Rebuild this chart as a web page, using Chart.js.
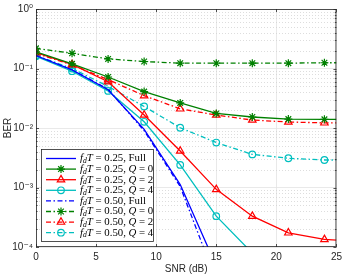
<!DOCTYPE html>
<html>
<head>
  <meta charset="UTF-8">
  <title>BER vs SNR</title>
  <script src="https://cdn.jsdelivr.net/npm/chart.js"></script>
  <style>
    body { margin: 0; background: #fff; }
    #wrap { width: 346px; height: 275px; position: relative; }
  </style>
</head>
<body>
  <div id="wrap"><canvas id="berChart"></canvas></div>

  <script>
    // SNR points (dB); markers every 3 dB, lines run to 25 dB
    var snr = [0, 3, 6, 9, 12, 15, 18, 21, 24, 25];

    // f_dT = 0.25
    var ber025Full = [0.165, 0.095, 0.044, 0.0095, 0.00112, 0.000048, null, null, null, null];
    var ber025Q0   = [0.19, 0.12, 0.072, 0.041, 0.0264, 0.0176, 0.0153, 0.0141, 0.014, 0.014];
    var ber025Q2   = [0.185, 0.117, 0.06, 0.0165, 0.0041, 0.00093, 0.00033, 0.000173, 0.000134, 0.00013];
    var ber025Q4   = [0.16, 0.09, 0.042, 0.0127, 0.0024, 0.00033, 0.000079, null, null, null];
    // f_dT = 0.50
    var ber050Full = [0.165, 0.095, 0.045, 0.009, 0.00104, 0.000027, null, null, null, null];
    var ber050Q0   = [0.218, 0.18, 0.145, 0.131, 0.123, 0.123, 0.123, 0.123, 0.125, 0.125];
    var ber050Q2   = [0.18, 0.115, 0.065, 0.035, 0.021, 0.0165, 0.0136, 0.0126, 0.0122, 0.0122];
    var ber050Q4   = [0.165, 0.1, 0.05, 0.023, 0.0101, 0.0057, 0.0036, 0.0031, 0.0029, 0.0029];

    var xTicks = [0, 5, 10, 15, 20, 25];
    var yTicks = [1e-4, 1e-3, 1e-2, 1e-1, 1];
    var fdTLabels = ["0.25", "0.25", "0.25", "0.25", "0.50", "0.50", "0.50", "0.50"];
    var schemeLabels = ["Full", "0", "2", "4", "Full", "0", "2", "4"];

    var BLUE = "#0000ff", GREEN = "#008000", RED = "#ff0000", CYAN = "#00bfbf";
    var DASHDOT = [5, 2.5, 1.5, 2.5];

    function pts(arr) {
      return snr.map(function (x, i) { return { x: x, y: arr[i] }; });
    }

    function makeSet(arr, color, style, radius, dash) {
      return {
        data: pts(arr),
        borderColor: color,
        backgroundColor: "rgba(0,0,0,0)",
        borderWidth: 1.3,
        borderDash: dash,
        pointStyle: style,
        pointBorderWidth: 1.2,
        markerRadius: radius,
        pointRadius: function (ctx) { return snr[ctx.dataIndex] === 25 ? 0 : radius; },
        pointHoverRadius: 0,
        tension: 0,
        fill: false,
        spanGaps: false
      };
    }

    var datasets = [
      makeSet(ber025Full, BLUE, false, 0, []),
      makeSet(ber025Q0, GREEN, "star", 4, []),
      makeSet(ber025Q2, RED, "triangle", 4.3, []),
      makeSet(ber025Q4, CYAN, "circle", 3.3, []),
      makeSet(ber050Full, BLUE, false, 0, DASHDOT),
      makeSet(ber050Q0, GREEN, "star", 4, DASHDOT),
      makeSet(ber050Q2, RED, "triangle", 4.3, DASHDOT),
      makeSet(ber050Q4, CYAN, "circle", 3.3, DASHDOT)
    ];

    var SUP = { "-": "\u207B", "0": "\u2070", "1": "\u00B9", "2": "\u00B2", "3": "\u00B3", "4": "\u2074" };
    function powLabel(v) {
      var e = String(Math.round(Math.log10(v)));
      return "10" + e.split("").map(function (c) { return SUP[c]; }).join("");
    }

    // minor grid, inner ticks and box like the original figure
    var framePlugin = {
      id: "frame",
      beforeDatasetsDraw: function (chart) {
        var ctx = chart.ctx, a = chart.chartArea, y = chart.scales.y;
        ctx.save();
        ctx.strokeStyle = "#d4d4d4";
        ctx.lineWidth = 0.8;
        ctx.setLineDash([1, 2]);
        for (var d = -4; d < 0; d++) {
          for (var m = 2; m <= 9; m++) {
            var py = Math.round(y.getPixelForValue(m * Math.pow(10, d))) + 0.5;
            ctx.beginPath();
            ctx.moveTo(a.left, py);
            ctx.lineTo(a.right, py);
            ctx.stroke();
          }
        }
        ctx.restore();
      },
      afterDraw: function (chart) {
        var ctx = chart.ctx, a = chart.chartArea, xs = chart.scales.x, ys = chart.scales.y;
        ctx.save();
        ctx.strokeStyle = "#262626";
        ctx.lineWidth = 0.8;
        ctx.setLineDash([]);
        ctx.strokeRect(a.left + 0.5, a.top + 0.5, a.right - a.left - 1, a.bottom - a.top - 1);
        ctx.beginPath();
        xTicks.forEach(function (v) {
          var px = Math.round(xs.getPixelForValue(v)) + 0.5;
          ctx.moveTo(px, a.bottom); ctx.lineTo(px, a.bottom - 3);
          ctx.moveTo(px, a.top); ctx.lineTo(px, a.top + 3);
        });
        for (var d = -4; d <= 0; d++) {
          for (var m = 1; m <= 9; m++) {
            if (d === 0 && m > 1) break;
            var len = m === 1 ? 3 : 1.6;
            var py = Math.round(ys.getPixelForValue(m * Math.pow(10, d))) + 0.5;
            ctx.moveTo(a.left, py); ctx.lineTo(a.left + len, py);
            ctx.moveTo(a.right, py); ctx.lineTo(a.right - len, py);
          }
        }
        ctx.stroke();
        ctx.restore();
        drawLegend(chart);
      }
    };

    function drawRich(ctx, parts, x, y) {
      parts.forEach(function (p) {
        var size = 10.8, dy = 0, style = "";
        if (p[1] === "i") style = "italic ";
        if (p[1] === "sub") { style = "italic "; size = 7.6; dy = 2.5; }
        ctx.font = style + size + 'px "Liberation Serif", "DejaVu Serif", serif';
        ctx.fillText(p[0], x, y + dy);
        x += ctx.measureText(p[0]).width;
      });
    }

    function drawLegend(chart) {
      var ctx = chart.ctx;
      var left = 41, top = 149, w = 112, h = 92, rowH = 10.6, firstRow = 158.5;
      ctx.save();
      ctx.fillStyle = "#ffffff";
      ctx.fillRect(left, top, w, h);
      ctx.strokeStyle = "#262626";
      ctx.lineWidth = 0.8;
      ctx.setLineDash([]);
      ctx.strokeRect(left + 0.5, top + 0.5, w, h);
      datasets.forEach(function (ds, i) {
        var cy = firstRow + i * rowH;
        ctx.strokeStyle = ds.borderColor;
        ctx.lineWidth = ds.borderWidth;
        ctx.setLineDash(ds.borderDash);
        ctx.beginPath();
        ctx.moveTo(46, cy);
        ctx.lineTo(76, cy);
        ctx.stroke();
        ctx.setLineDash([]);
        if (ds.pointStyle) {
          ctx.lineWidth = ds.pointBorderWidth;
          ctx.fillStyle = "rgba(0,0,0,0)";
          Chart.helpers.drawPoint(ctx, { pointStyle: ds.pointStyle, radius: ds.markerRadius, rotation: 0, borderWidth: ds.pointBorderWidth }, 61, cy);
        }
        ctx.fillStyle = "#000000";
        ctx.textBaseline = "middle";
        var parts = [["f", "i"], ["d", "sub"], ["T", "i"], [" = " + fdTLabels[i] + ", ", "r"]];
        if (schemeLabels[i] === "Full") parts.push(["Full", "r"]);
        else { parts.push(["Q", "i"]); parts.push([" = " + schemeLabels[i], "r"]); }
        drawRich(ctx, parts, 80, cy);
      });
      ctx.restore();
    }

    var axisFont = { family: '"Liberation Sans", "DejaVu Sans", sans-serif', size: 10 };

    new Chart(document.getElementById("berChart"), {
      type: "line",
      data: { datasets: datasets },
      plugins: [framePlugin],
      options: {
        responsive: true,
        maintainAspectRatio: false,
        animation: false,
        layout: { padding: { top: 7, right: 7, left: 0, bottom: 0 } },
        plugins: { legend: { display: false }, tooltip: { enabled: false } },
        scales: {
          x: {
            type: "linear",
            min: 0,
            max: 25,
            afterBuildTicks: function (scale) {
              scale.ticks = xTicks.map(function (v) { return { value: v }; });
            },
            afterFit: function (scale) { scale.height = 28; },
            grid: { color: "#e3e3e3", drawTicks: false, lineWidth: 0.8 },
            border: { display: false },
            ticks: { color: "#262626", font: axisFont, padding: 4, maxRotation: 0 },
            title: { display: true, text: "SNR (dB)", color: "#262626", font: axisFont, padding: 0 }
          },
          y: {
            type: "logarithmic",
            min: 1e-4,
            max: 1,
            afterBuildTicks: function (scale) {
              scale.ticks = yTicks.map(function (v) { return { value: v, major: true }; });
            },
            afterFit: function (scale) { scale.width = 36; },
            grid: { color: "#e3e3e3", drawTicks: false, lineWidth: 0.8 },
            border: { display: false },
            ticks: {
              color: "#262626",
              font: axisFont,
              padding: 3,
              autoSkip: false,
              callback: function (v) { return powLabel(v); }
            },
            title: { display: true, text: "BER", color: "#262626", font: axisFont, padding: { top: 2, bottom: 0 } }
          }
        }
      }
    });
  </script>
</body>
</html>
